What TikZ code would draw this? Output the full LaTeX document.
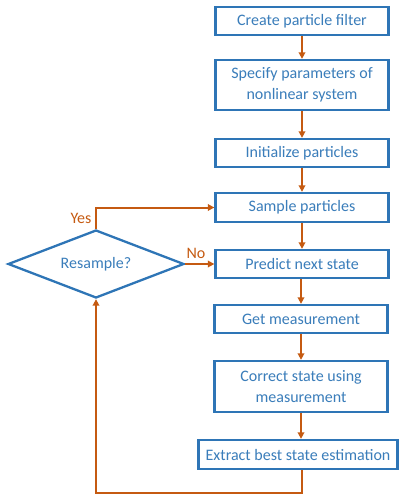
\documentclass[tikz,border=0pt]{standalone}
\usepackage{fontspec}
\setmainfont{Carlito}
\usetikzlibrary{arrows.meta,shapes.geometric}
\definecolor{bblue}{HTML}{2E75B6}
\definecolor{tblue}{HTML}{3A7DBA}
\definecolor{orng}{HTML}{C55A11}
\begin{document}
\begin{tikzpicture}[x=1pt,y=-1pt,
  box/.style={draw=bblue,line width=2.3pt,fill=white,text=tblue,font=\fontsize{16}{21}\selectfont,align=center,minimum width=173pt,inner sep=0pt},
  dec/.style={draw=bblue,line width=2.3pt,diamond,aspect=2.6,text=tblue,font=\fontsize{16}{21}\selectfont,inner sep=0pt,minimum width=176pt,minimum height=68pt},
  arr/.style={draw=orng,line width=2pt,-{Triangle[length=6.5pt,width=6.5pt]}},
  lab/.style={text=orng,font=\fontsize{16}{21}\selectfont}]
\useasboundingbox (0,0) rectangle (400,497);
\node[box,minimum height=28pt] (b1) at (302,21) {Create particle filter};
\node[box,minimum height=50pt] (b2) at (302,85) {Specify parameters of\\nonlinear system};
\node[box,minimum height=28pt] (b3) at (302,153) {Initialize particles};
\node[box,minimum height=29pt] (b4) at (302,207.5) {Sample particles};
\node[box,minimum height=28pt] (b5) at (302,264) {Predict next state};
\node[box,minimum height=28pt] (b6) at (301,319) {Get measurement};
\node[box,minimum height=51pt] (b7) at (301,386.5) {Correct state using\\measurement};
\node[box,minimum height=29pt,minimum width=199pt] (b8) at (298,454.5) {Extract best state estimation};
\node[dec] (d) at (96,264) {Resample?};
\coordinate (c1) at (96,207.5);
\coordinate (c2) at (302,493);
\coordinate (c3) at (96,493);
\draw[arr] (b1) -- (b2);
\draw[arr] (b2) -- (b3);
\draw[arr] (b3) -- (b4);
\draw[arr] (b4) -- (b5);
\draw[arr] (b5.south -| b6) -- (b6);
\draw[arr] (b6) -- (b7);
\draw[arr] (b7) -- (b7.south |- b8.north);
\draw[arr] (d.north) -- (c1) -- (b4.west);
\draw[arr] (d.east) -- (b5.west);
\draw[arr] (b8.south -| c2) -- (c2) -- (c3) -- (d.south);
\node[lab] (yes) at (81,218) {Yes};
\node[lab] (no) at (196,253) {No};
\end{tikzpicture}
\end{document}
